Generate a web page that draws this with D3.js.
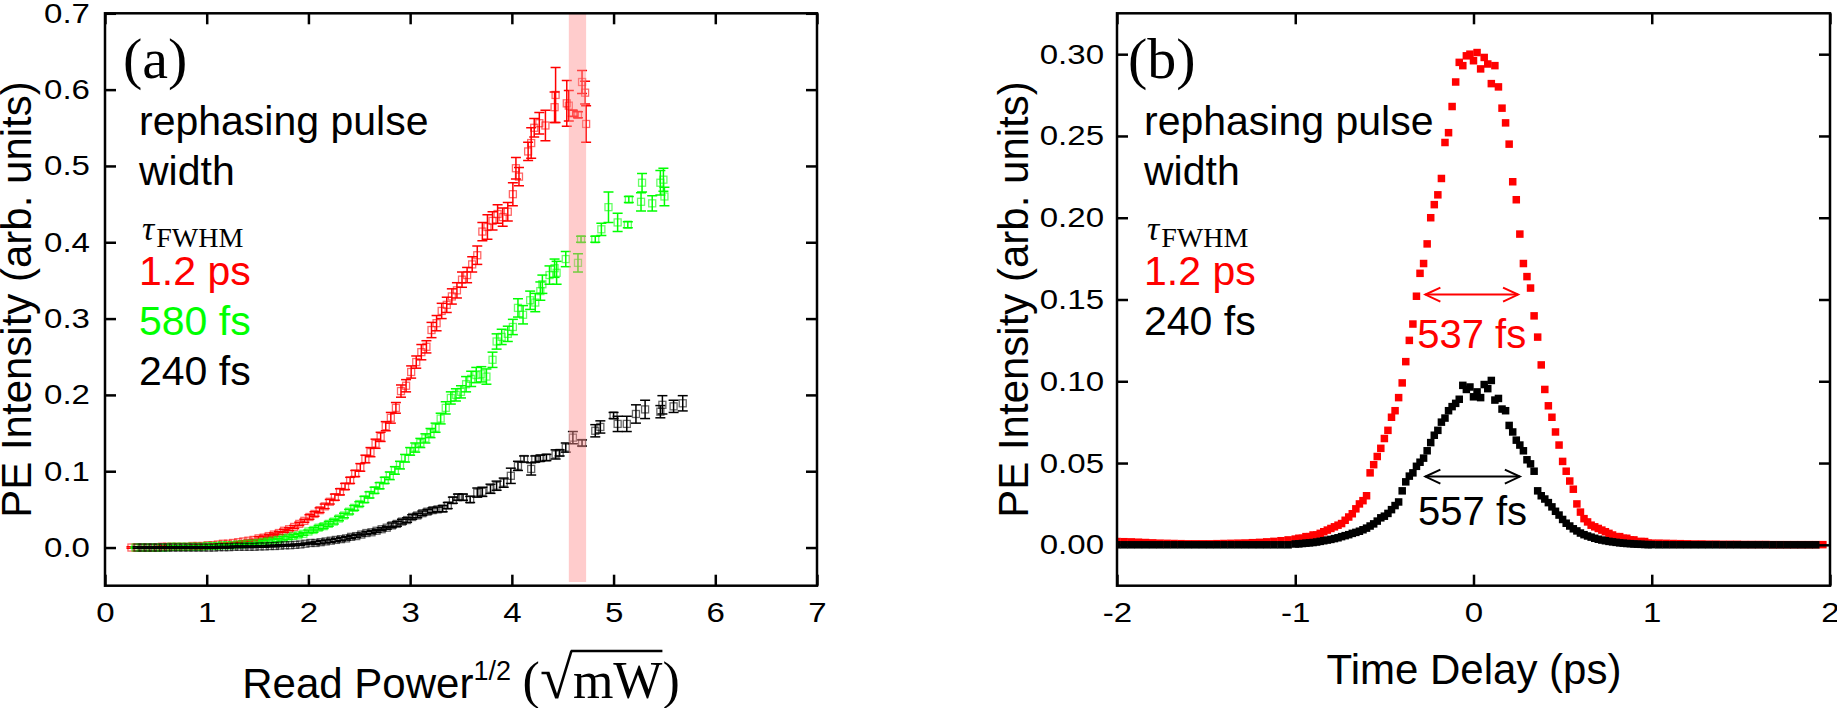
<!DOCTYPE html>
<html>
<head>
<meta charset="utf-8">
<script src="https://d3js.org/d3.v7.min.js"></script>
<style>
 body { margin: 0; background: #fff; }
</style>
</head>
<body>
<svg id="chart" width="1837" height="708" font-family="Liberation Sans, Arial, sans-serif"></svg>
<script>
// ---------- panel (a): PE intensity vs sqrt(read power), three pulse widths ----------
var redX = [0.26,0.31,0.36,0.41,0.46,0.51,0.56,0.61,0.66,0.71,
            0.76,0.81,0.86,0.91,0.96,1.01,1.06,1.11,1.16,1.21,
            1.26,1.31,1.36,1.41,1.46,1.51,1.56,1.61,1.66,1.71,
            1.76,1.81,1.86,1.91,1.96,2.01,2.06,2.11,2.16,2.21,
            2.26,2.31,2.36,2.41,2.46,2.51,2.56,2.61,2.66,2.71,
            2.76,2.81,2.86,2.91,2.96,3.01,3.06,3.11,3.16,3.21,
            3.26,3.31,3.36,3.41,3.46,3.51,3.56,3.61,3.66,3.71,
            3.76,3.81,3.86,3.91,3.96,4.01,4.04,4.07,4.16,4.19,
            4.22,4.27,4.33,4.42,4.43,4.54,4.56,4.60,4.65,4.69,
            4.72,4.73];
var redY = [0,0,0,0,0,0,0.001,0.001,0.001,0.001,
            0.001,0.001,0.002,0.002,0.002,0.003,0.003,0.004,0.005,0.005,
            0.006,0.007,0.008,0.009,0.010,0.012,0.013,0.015,0.017,0.019,
            0.022,0.024,0.027,0.031,0.035,0.040,0.044,0.049,0.054,0.060,
            0.066,0.073,0.080,0.088,0.097,0.105,0.116,0.125,0.136,0.145,
            0.159,0.170,0.183,0.205,0.212,0.230,0.243,0.256,0.263,0.285,
            0.294,0.310,0.318,0.329,0.337,0.351,0.357,0.371,0.383,0.414,
            0.420,0.428,0.437,0.433,0.440,0.463,0.497,0.486,0.519,0.530,
            0.550,0.556,0.553,0.577,0.593,0.582,0.579,0.569,0.567,0.610,
            0.596,0.555];
var redErr = [0.001,0.001,0.001,0.001,0.001,0.001,0.001,0.001,0.001,0.001,
              0.001,0.001,0.001,0.001,0.001,0.001,0.001,0.001,0.001,0.001,
              0.001,0.001,0.001,0.001,0.001,0.002,0.002,0.002,0.002,0.002,
              0.002,0.002,0.002,0.002,0.002,0.003,0.003,0.003,0.003,0.003,
              0.004,0.004,0.004,0.004,0.004,0.005,0.005,0.006,0.006,0.006,
              0.006,0.007,0.007,0.008,0.008,0.008,0.008,0.010,0.008,0.010,
              0.010,0.010,0.010,0.010,0.010,0.010,0.010,0.010,0.012,0.012,
              0.016,0.012,0.012,0.012,0.012,0.015,0.014,0.012,0.012,0.020,
              0.012,0.014,0.020,0.020,0.036,0.030,0.020,0.004,0.004,0.015,
              0.015,0.024];

var greenX = [0.30,0.35,0.40,0.45,0.50,0.55,0.60,0.65,0.70,0.75,
              0.80,0.85,0.90,0.95,1.00,1.05,1.10,1.15,1.20,1.25,
              1.30,1.35,1.40,1.45,1.50,1.55,1.60,1.65,1.70,1.75,
              1.80,1.85,1.90,1.95,2.00,2.05,2.10,2.15,2.20,2.25,
              2.30,2.35,2.40,2.45,2.50,2.55,2.60,2.65,2.70,2.75,
              2.80,2.85,2.90,2.95,3.00,3.05,3.10,3.15,3.20,3.25,
              3.30,3.35,3.40,3.45,3.50,3.55,3.60,3.65,3.70,3.75,
              3.81,3.85,3.90,3.96,4.01,4.06,4.11,4.18,4.23,4.28,
              4.30,4.37,4.42,4.44,4.53,4.65,4.68,4.82,4.88,4.95,
              5.04,5.14,5.15,5.27,5.28,5.38,5.46,5.49,5.50];
var greenY = [0,0,0,0,0,0,0,0.001,0.001,0.001,
              0.001,0.001,0.001,0.001,0.002,0.002,0.002,0.003,0.003,0.003,
              0.004,0.004,0.005,0.005,0.006,0.007,0.008,0.009,0.010,0.012,
              0.013,0.015,0.016,0.018,0.021,0.023,0.026,0.028,0.031,0.034,
              0.038,0.042,0.047,0.052,0.057,0.063,0.069,0.075,0.081,0.088,
              0.094,0.101,0.108,0.117,0.126,0.131,0.137,0.143,0.150,0.157,
              0.169,0.183,0.196,0.200,0.204,0.214,0.221,0.226,0.227,0.224,
              0.246,0.270,0.276,0.280,0.289,0.314,0.305,0.324,0.321,0.336,
              0.345,0.357,0.366,0.360,0.378,0.373,0.404,0.404,0.417,0.446,
              0.426,0.423,0.456,0.453,0.478,0.451,0.478,0.482,0.460];
var greenErr = [0.001,0.001,0.001,0.001,0.001,0.001,0.001,0.001,0.001,0.001,
                0.001,0.001,0.001,0.001,0.001,0.001,0.001,0.001,0.001,0.001,
                0.001,0.001,0.001,0.001,0.001,0.002,0.002,0.002,0.002,0.002,
                0.002,0.002,0.002,0.002,0.002,0.003,0.003,0.003,0.003,0.003,
                0.003,0.003,0.003,0.003,0.003,0.004,0.004,0.004,0.004,0.004,
                0.005,0.005,0.005,0.005,0.005,0.006,0.006,0.006,0.006,0.006,
                0.007,0.008,0.008,0.008,0.008,0.010,0.010,0.010,0.010,0.010,
                0.010,0.010,0.010,0.010,0.010,0.012,0.012,0.012,0.012,0.012,
                0.012,0.012,0.012,0.015,0.010,0.012,0.004,0.004,0.008,0.020,
                0.012,0.004,0.004,0.012,0.012,0.010,0.016,0.015,0.012];

var blackX = [0.32,0.37,0.42,0.47,0.52,0.57,0.62,0.67,0.72,0.77,
              0.82,0.87,0.92,0.97,1.02,1.07,1.12,1.17,1.22,1.27,
              1.32,1.37,1.42,1.47,1.52,1.57,1.62,1.67,1.72,1.77,
              1.82,1.87,1.92,1.97,2.02,2.07,2.12,2.17,2.22,2.27,
              2.32,2.37,2.42,2.47,2.52,2.57,2.62,2.67,2.72,2.77,
              2.82,2.87,2.92,2.97,3.02,3.07,3.12,3.17,3.22,3.27,
              3.32,3.37,3.42,3.47,3.52,3.59,3.66,3.71,3.79,3.85,
              3.92,3.99,4.06,4.12,4.19,4.23,4.28,4.34,4.43,4.47,
              4.53,4.60,4.69,4.82,4.87,5.00,5.04,5.13,5.22,5.31,
              5.46,5.48,5.59,5.68];
var blackY = [0,0,0,0,0,0,0,0,0,0,
              0,0,0,0,0,0,0.0005,0.0005,0.0005,0.001,
              0.001,0.001,0.001,0.001,0.0015,0.0015,0.002,0.002,0.0025,0.003,
              0.003,0.0035,0.004,0.005,0.006,0.006,0.007,0.008,0.009,0.010,
              0.011,0.012,0.014,0.015,0.017,0.019,0.020,0.022,0.024,0.026,
              0.029,0.031,0.034,0.036,0.040,0.042,0.045,0.047,0.049,0.050,
              0.051,0.055,0.062,0.066,0.066,0.063,0.072,0.073,0.077,0.081,
              0.085,0.094,0.107,0.116,0.103,0.116,0.117,0.118,0.122,0.124,
              0.131,0.144,0.137,0.153,0.158,0.173,0.162,0.162,0.175,0.181,
              0.178,0.187,0.185,0.189];
var blackErr = [0.001,0.001,0.001,0.001,0.001,0.001,0.001,0.001,0.001,0.001,
                0.001,0.001,0.001,0.001,0.001,0.001,0.001,0.001,0.001,0.001,
                0.001,0.001,0.001,0.001,0.001,0.001,0.001,0.001,0.001,0.001,
                0.001,0.001,0.001,0.001,0.001,0.002,0.002,0.002,0.002,0.002,
                0.002,0.002,0.002,0.002,0.002,0.002,0.002,0.002,0.002,0.002,
                0.003,0.003,0.003,0.003,0.003,0.003,0.003,0.003,0.003,0.003,
                0.004,0.004,0.004,0.004,0.004,0.004,0.006,0.006,0.006,0.006,
                0.006,0.010,0.006,0.004,0.008,0.004,0.004,0.004,0.006,0.004,
                0.006,0.008,0.004,0.008,0.008,0.004,0.010,0.010,0.012,0.012,
                0.008,0.012,0.008,0.010];

var bandA = [4.56, 4.73];   // highlighted read power range
var xTicksA = [0,1,2,3,4,5,6,7];
var yTicksA = [0,0.1,0.2,0.3,0.4,0.5,0.6,0.7];
var legendA = ["1.2 ps","580 fs","240 fs"];
var legendColorsA = ["#ff0000","#00ff00","#000000"];

// ---------- panel (b): PE intensity vs time delay ----------
var delay = [-2.00,-1.96,-1.92,-1.88,-1.84,-1.80,-1.76,-1.72,-1.68,-1.64,
             -1.60,-1.56,-1.52,-1.48,-1.44,-1.40,-1.36,-1.32,-1.28,-1.24,
             -1.20,-1.16,-1.12,-1.08,-1.04,
             -1.00,-0.98,-0.96,-0.94,-0.92,-0.90,-0.88,-0.86,-0.84,-0.82,
             -0.80,-0.78,-0.76,-0.74,-0.72,-0.70,-0.68,-0.66,-0.64,-0.62,
             -0.60,-0.58,-0.56,-0.54,-0.52,-0.50,-0.48,-0.46,-0.44,-0.42,
             -0.40,-0.38,-0.36,-0.34,-0.32,-0.30,-0.28,-0.26,-0.24,-0.22,
             -0.20,-0.18,-0.16,-0.14,-0.12,-0.10,-0.08,-0.06,-0.04,-0.02,
             0.00,0.02,0.04,0.06,0.08,0.10,0.12,0.14,0.16,0.18,
             0.20,0.22,0.24,0.26,0.28,0.30,0.32,0.34,0.36,0.38,
             0.40,0.42,0.44,0.46,0.48,0.50,0.52,0.54,0.56,0.58,
             0.60,0.62,0.64,0.66,0.68,0.70,0.72,0.74,0.76,0.78,
             0.80,0.82,0.84,0.86,0.88,0.90,0.92,0.94,0.96,0.98,
             1.00,
             1.04,1.08,1.12,1.16,1.20,1.24,1.28,1.32,1.36,1.40,
             1.44,1.48,1.52,1.56,1.60,1.64,1.68,1.72,1.76,1.80,
             1.84,1.88,1.92,1.96];
var peRed = [0.0020,0.0019,0.0018,0.0016,0.0014,0.0012,0.0010,0.0009,0.0008,0.0007,
             0.0006,0.0006,0.0006,0.0006,0.0007,0.0008,0.0009,0.0010,0.0011,0.0013,
             0.0015,0.0018,0.0021,0.0025,0.0030,
             0.0035,0.004,0.004,0.005,0.005,0.006,0.006,0.007,0.008,0.009,
             0.010,0.011,0.012,0.013,0.015,0.017,0.019,0.022,0.025,0.027,
             0.030,0.044,0.049,0.054,0.059,0.065,0.070,0.078,0.082,0.090,
             0.099,0.112,0.125,0.135,0.152,0.166,0.172,0.184,0.200,0.208,
             0.214,0.224,0.246,0.252,0.268,0.283,0.295,0.293,0.299,0.300,
             0.296,0.301,0.291,0.298,0.294,0.282,0.293,0.280,0.267,0.258,
             0.245,0.222,0.211,0.190,0.172,0.164,0.157,0.140,0.127,0.110,
             0.095,0.085,0.078,0.069,0.061,0.051,0.045,0.039,0.034,0.025,
             0.020,0.016,0.014,0.012,0.011,0.010,0.009,0.008,0.007,0.006,
             0.005,0.005,0.004,0.004,0.003,0.003,0.002,0.002,0.002,0.001,
             0.001,
             0.0010,0.0009,0.0008,0.0007,0.0006,0.0005,0.0005,0.0004,0.0004,0.0003,
             0.0003,0.0003,0.0002,0.0002,0.0002,0.0002,0.0001,0.0001,0.0001,0.0001,
             0.0001,0.0001,0.0001,0.0001];
var peBlack = [0,0,0,0,0,0,0,0,0,0,
               0,0,0,0,0,0,0,0,0,0,
               0,0,0,0,0,
               0.0005,0.0006,0.0008,0.0010,0.0012,0.0014,0.0017,0.0021,0.0025,0.0029,
               0.0033,0.0038,0.0043,0.0050,0.0056,0.0062,0.0070,0.0076,0.0083,0.0092,
               0.0102,0.0115,0.0128,0.0145,0.0165,0.0175,0.0192,0.0215,0.0240,0.0262,
               0.0330,0.0385,0.0420,0.0440,0.0480,0.0505,0.0530,0.0575,0.0625,0.0670,
               0.0700,0.0750,0.0775,0.0820,0.0845,0.0865,0.0890,0.0975,0.0950,0.0965,
               0.0905,0.0935,0.0900,0.0980,0.0955,0.1005,0.0885,0.0895,0.0830,0.0820,
               0.0730,0.0690,0.0640,0.0610,0.0575,0.0520,0.0495,0.0450,0.0330,0.0300,
               0.0280,0.0258,0.0232,0.0205,0.0182,0.0155,0.0132,0.0115,0.0098,0.0085,
               0.0072,0.0062,0.0054,0.0047,0.0040,0.0034,0.0029,0.0025,0.0021,0.0018,
               0.0015,0.0012,0.0010,0.0008,0.0007,0.0005,0.0004,0.0003,0.0002,0.0001,
               0.0001,
               0,0,0,0,0,0,0,0,0,0,
               0,0,0,0,0,0,0,0,0,0,
               0,0,0,null];

var xTicksB = [-2,-1,0,1,2];
var yTicksB = [0,0.05,0.10,0.15,0.20,0.25,0.30];
var legendB = ["1.2 ps","240 fs"];
var legendColorsB = ["#ff0000","#000000"];
var fwhmLabels = ["537 fs","557 fs"];
var fwhmLevel = [0.153, 0.0417];
var fwhmFrom = [-0.27, -0.27];
var fwhmTo = [0.25, 0.26];
var fwhmColors = ["#ff0000","#000000"];

// ---------- layout ----------
var SERIF = "Liberation Serif, Times New Roman, serif";
var svg = d3.select("#chart");
svg.append("rect").attr("width",1837).attr("height",708).attr("fill","#fff");

var TOP = 13.3, BOTTOM = 585.7, TICK = 11;
var xa = d3.scaleLinear().domain([0,7]).range([105,817]);
var ya = d3.scaleLinear().domain([-0.05,0.7]).range([BOTTOM,TOP]);
var xb = d3.scaleLinear().domain([-2,2]).range([1117,1830]);
var yb = d3.scaleLinear().domain([-0.025,0.325]).range([BOTTOM,TOP]);

function clipFor(id, x) {
  svg.append("clipPath").attr("id",id).append("rect")
     .attr("x",x.range()[0]).attr("y",TOP)
     .attr("width",x.range()[1]-x.range()[0]).attr("height",BOTTOM-TOP);
}
clipFor("clipA", xa);
clipFor("clipB", xb);

function frame(x, y, xt, yt, xf, yf, ypad) {
  var g = svg.append("g");
  var x0 = x.range()[0], x1 = x.range()[1];
  g.append("g").attr("class","bx").attr("transform","translate(0,"+BOTTOM+")")
   .call(d3.axisBottom(x).tickValues(xt).tickFormat(xf).tickSize(-TICK).tickPadding(16));
  g.append("g").attr("transform","translate(0,"+TOP+")")
   .call(d3.axisTop(x).tickValues(xt).tickFormat("").tickSize(-TICK));
  g.append("g").attr("class","ly").attr("transform","translate("+x0+",0)")
   .call(d3.axisLeft(y).tickValues(yt).tickFormat(yf).tickSize(-TICK).tickPadding(ypad));
  g.append("g").attr("transform","translate("+x1+",0)")
   .call(d3.axisRight(y).tickValues(yt).tickFormat("").tickSize(-TICK));
  g.selectAll(".domain").remove();
  g.selectAll("g").attr("font-family",null).attr("font-size",null);
  g.selectAll(".tick line").attr("stroke","#000").attr("stroke-width",2.5);
  g.selectAll(".tick text").attr("font-size",28).attr("fill","#000");
  g.selectAll(".bx .tick text").attr("transform","scale(1.18,1)");
  g.selectAll(".ly .tick text").attr("x",0)
   .attr("transform","translate("+(-ypad)+",0) scale(1.18,1)");
  g.append("rect").attr("x",x0).attr("y",TOP).attr("width",x1-x0).attr("height",BOTTOM-TOP)
   .attr("fill","none").attr("stroke","#000").attr("stroke-width",2.5);
}

// ---------- panel (a) marks ----------
var plotA = svg.append("g").attr("clip-path","url(#clipA)");

function errSeries(xs, ys, es, color) {
  var pts = xs.map(function(v,i){ return {x:v, y:ys[i], e:es[i]}; });
  var g = plotA.append("g").attr("stroke",color).attr("fill","none");
  g.selectAll("line.v").data(pts).enter().append("line")
   .attr("x1",function(d){ return xa(d.x); }).attr("x2",function(d){ return xa(d.x); })
   .attr("y1",function(d){ return ya(d.y+d.e); }).attr("y2",function(d){ return ya(d.y-d.e); })
   .attr("stroke-width",1.5);
  [1,-1].forEach(function(s){
    g.selectAll("line.c"+s).data(pts).enter().append("line")
     .attr("x1",function(d){ return xa(d.x)-5; }).attr("x2",function(d){ return xa(d.x)+5; })
     .attr("y1",function(d){ return ya(d.y+s*d.e); }).attr("y2",function(d){ return ya(d.y+s*d.e); })
     .attr("stroke-width",1.5);
  });
  g.selectAll("rect").data(pts).enter().append("rect")
   .attr("x",function(d){ return xa(d.x)-3.5; }).attr("y",function(d){ return ya(d.y)-3.5; })
   .attr("width",7).attr("height",7)
   .attr("stroke-width",1.3).attr("stroke-opacity",0.6);
}
errSeries(redX, redY, redErr, "#ff0000");
errSeries(greenX, greenY, greenErr, "#00ff00");
errSeries(blackX, blackY, blackErr, "#000000");

plotA.append("rect")
  .attr("x",xa(bandA[0])).attr("width",xa(bandA[1])-xa(bandA[0]))
  .attr("y",TOP).attr("height",582-TOP)
  .attr("fill","#ff8f8f").attr("opacity",0.45);

frame(xa, ya, xTicksA, yTicksA, d3.format("d"), d3.format(".1f"), 15);

// ---------- panel (b) marks ----------
var plotB = svg.append("g").attr("clip-path","url(#clipB)");
function dotSeries(vals, color) {
  var pts = delay.map(function(t,i){ return {t:t, v:vals[i]}; })
                 .filter(function(d){ return d.v !== null; });
  plotB.append("g").selectAll("rect").data(pts).enter().append("rect")
   .attr("x",function(d){ return xb(d.t)-3.75; }).attr("y",function(d){ return yb(d.v)-3.75; })
   .attr("width",7.5).attr("height",7.5).attr("fill",color);
}
dotSeries(peRed, "#ff0000");
dotSeries(peBlack, "#000000");

frame(xb, yb, xTicksB, yTicksB, function(d){ return String(d); }, d3.format(".2f"), 13);

// FWHM arrows
fwhmLabels.forEach(function(lab, i){
  var x0 = xb(fwhmFrom[i]), x1 = xb(fwhmTo[i]), y = yb(fwhmLevel[i]);
  var g = svg.append("g").attr("stroke",fwhmColors[i]).attr("fill","none").attr("stroke-width",2);
  g.append("line").attr("x1",x0).attr("x2",x1).attr("y1",y).attr("y2",y);
  g.append("path").attr("d","M"+(x0+15)+","+(y-7)+"L"+x0+","+y+"L"+(x0+15)+","+(y+7));
  g.append("path").attr("d","M"+(x1-15)+","+(y-7)+"L"+x1+","+y+"L"+(x1-15)+","+(y+7));
  svg.append("text").attr("x",(x0+x1)/2).attr("y",y+(i===0?53:48))
     .attr("text-anchor","middle").attr("font-size",40).attr("fill",fwhmColors[i]).text(lab);
});

// ---------- text blocks ----------
function textBlock(x, tag, labels, colors) {
  svg.append("text").attr("x",x-16).attr("y",78).attr("font-family",SERIF)
     .attr("font-size",58).text(tag);
  svg.append("text").attr("x",x).attr("y",135).attr("font-size",41).text("rephasing pulse");
  svg.append("text").attr("x",x).attr("y",185).attr("font-size",41).text("width");
  var tau = svg.append("text").attr("x",x+3).attr("y",240).attr("font-family",SERIF);
  tau.append("tspan").attr("font-style","italic").attr("font-size",34).text("\u03C4");
  tau.append("tspan").attr("font-size",28).attr("dx",2).attr("dy",7).text("FWHM");
  labels.forEach(function(l,i){
    svg.append("text").attr("x",x).attr("y",285+i*50).attr("font-size",41)
       .attr("fill",colors[i]).text(l);
  });
}
textBlock(139, "(a)", legendA, legendColorsA);
textBlock(1144, "(b)", legendB, legendColorsB);

// ---------- axis titles ----------
function yTitle(x) {
  svg.append("text").attr("transform","translate("+x+",299.5) rotate(-90)")
     .attr("text-anchor","middle").attr("font-size",42).text("PE Intensity (arb. units)");
}
yTitle(31);
yTitle(1028);

svg.append("text").attr("x",1474).attr("y",684).attr("text-anchor","middle")
   .attr("font-size",42).text("Time Delay (ps)");

var ta = svg.append("text").attr("x",461).attr("y",698).attr("text-anchor","middle").attr("font-size",42);
ta.append("tspan").text("Read Power");
ta.append("tspan").attr("font-size",27).attr("dy",-18).text("1/2");
ta.append("tspan").attr("dy",18).text(" ");
ta.append("tspan").attr("font-family",SERIF).attr("font-size",52).text("(");
ta.append("tspan").attr("font-family",SERIF).attr("font-size",60).text("\u221A");
ta.append("tspan").attr("font-family",SERIF).attr("font-size",52).text("mW");
ta.append("tspan").attr("font-family",SERIF).attr("font-size",52).text(")");
var node = ta.node();
var n = node.getNumberOfChars();
var rootEnd = node.getEndPositionOfChar(n-4).x;
var wEnd = node.getEndPositionOfChar(n-2).x;
svg.append("line").attr("x1",rootEnd-2).attr("x2",wEnd).attr("y1",651).attr("y2",651)
   .attr("stroke","#000").attr("stroke-width",2.5);
</script>
</body>
</html>
